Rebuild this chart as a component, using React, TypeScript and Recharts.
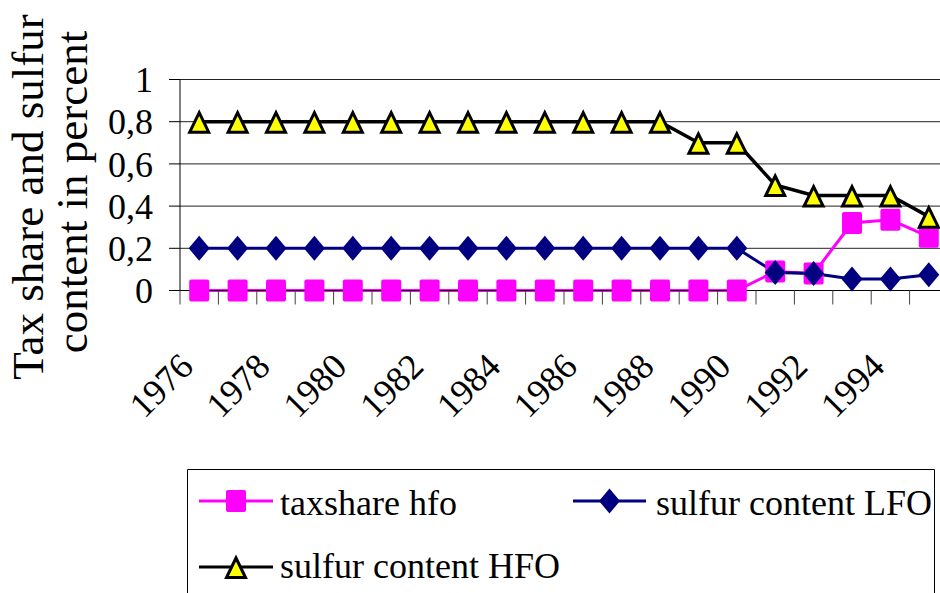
import React from 'react';
import { LineChart, Line, XAxis, YAxis, CartesianGrid, Legend, Customized } from 'recharts';

const years = ['1976', '1977', '1978', '1979', '1980', '1981', '1982', '1983', '1984', '1985', '1986', '1987', '1988', '1989', '1990', '1991', '1992', '1993', '1994', '1995'];
const taxshareHfo = [0, 0, 0, 0, 0, 0, 0, 0, 0, 0, 0, 0, 0, 0, 0, 0.09, 0.08, 0.32, 0.335, 0.255];
const sulfurLfo = [0.2, 0.2, 0.2, 0.2, 0.2, 0.2, 0.2, 0.2, 0.2, 0.2, 0.2, 0.2, 0.2, 0.2, 0.2, 0.085, 0.08, 0.055, 0.055, 0.075];
const sulfurHfo = [0.8, 0.8, 0.8, 0.8, 0.8, 0.8, 0.8, 0.8, 0.8, 0.8, 0.8, 0.8, 0.8, 0.7, 0.7, 0.5, 0.45, 0.45, 0.45, 0.35];
const yTicks = [0, 0.2, 0.4, 0.6, 0.8, 1];
const seriesNames = ['taxshare hfo', 'sulfur content LFO', 'sulfur content HFO'];
const yTitleLines = ['Tax share and sulfur', 'content in percent'];

const data = years.map((y, i) => ({ year: y, tax: taxshareHfo[i], lfo: sulfurLfo[i], hfo: sulfurHfo[i] }));

const FONT = '"Liberation Serif", "Times New Roman", serif';
const MAGENTA = '#FF00FF';
const NAVY = '#000080';

function SquareMark({ cx, cy }: any) {
  return <rect x={cx - 10} y={cy - 11} width={20} height={22} rx={2} fill={MAGENTA} />;
}
function DiamondMark({ cx, cy }: any) {
  return <polygon points={`${cx},${cy - 12.5} ${cx + 10.5},${cy} ${cx},${cy + 12.5} ${cx - 10.5},${cy}`} fill={NAVY} />;
}
function TriangleMark({ cx, cy }: any) {
  return (
    <polygon
      points={`${cx},${cy - 9} ${cx + 9.5},${cy + 10.5} ${cx - 9.5},${cy + 10.5}`}
      fill="#FFFF00"
      stroke="#000"
      strokeWidth={3}
      strokeLinejoin="miter"
    />
  );
}

function XTick(props: any) {
  const { x, y, payload } = props;
  const idx = years.indexOf(String(payload.value));
  const half = 19.2;
  const tx = x - 4;
  const ty = y + 78;
  return (
    <g>
      <line x1={x - half} y1={y} x2={x - half} y2={y + 14} stroke="#404040" strokeWidth={1} />
      {idx % 2 === 0 && (
        <text x={tx} y={ty} transform={`rotate(-45 ${tx} ${ty})`} textAnchor="end" fontSize={36} fontFamily={FONT} fill="#000">
          {payload.value}
        </text>
      )}
    </g>
  );
}

function YTitle() {
  return (
    <g>
      <text transform="translate(43,197) rotate(-90)" textAnchor="middle" fontSize={45} fontFamily={FONT} fill="#000">
        {yTitleLines[0]}
      </text>
      <text transform="translate(87,192) rotate(-90)" textAnchor="middle" fontSize={45} fontFamily={FONT} fill="#000">
        {yTitleLines[1]}
      </text>
    </g>
  );
}

function LegendIcon({ x1, x2, y, color, Mark }: any) {
  return (
    <g>
      <line x1={x1} y1={y} x2={x2} y2={y} stroke={color} strokeWidth={3} />
      <Mark cx={(x1 + x2) / 2} cy={y} />
    </g>
  );
}

function LegendBox() {
  return (
    <svg width={748} height={124} style={{ display: 'block' }}>
      <rect x={0} y={0} width={748} height={124} fill="#fff" />
      <path d="M0.5,124 V0.5 H747.5 V124" fill="none" stroke="#000" strokeWidth={1} />
      <LegendIcon x1={12} x2={86} y={32} color={MAGENTA} Mark={SquareMark} />
      <text x={93} y={46} fontSize={36} fontFamily={FONT} fill="#000">{seriesNames[0]}</text>
      <LegendIcon x1={386} x2={459} y={32} color={NAVY} Mark={DiamondMark} />
      <text x={469} y={46} fontSize={36} fontFamily={FONT} fill="#000">{seriesNames[1]}</text>
      <LegendIcon x1={12} x2={86} y={98} color="#000" Mark={TriangleMark} />
      <text x={93} y={109} fontSize={36} fontFamily={FONT} fill="#000">{seriesNames[2]}</text>
    </svg>
  );
}

export default function App() {
  return (
    <div style={{ position: 'fixed', left: 0, top: 0, width: 940, height: 593, overflow: 'hidden', background: '#fff' }}>
      <LineChart width={960} height={593} data={data} margin={{ top: 79.5, right: 12, left: 0, bottom: 202.5 }} style={{ fontFamily: FONT }}>
        <CartesianGrid vertical={false} stroke="#222" strokeWidth={1} />
        <XAxis
          dataKey="year"
          type="category"
          interval={0}
          padding={{ left: 19.2, right: 19.2 }}
          height={100}
          tickSize={0}
          tickMargin={0}
          tickLine={false}
          axisLine={{ stroke: '#000', strokeWidth: 1 }}
          tick={<XTick />}
        />
        <YAxis
          type="number"
          domain={[0, 1]}
          ticks={yTicks}
          interval={0}
          width={180}
          tickSize={11}
          tickMargin={16}
          tickLine={{ stroke: '#000' }}
          axisLine={{ stroke: '#000', strokeWidth: 1 }}
          tick={{ fontSize: 36, fontFamily: FONT, fill: '#000' }}
          tickFormatter={(v: number) => String(v).replace('.', ',')}
        />
        <Line type="linear" dataKey="tax" name={seriesNames[0]} stroke={MAGENTA} strokeWidth={3} isAnimationActive={false} activeDot={false}
          dot={(p: any) => <SquareMark key={`s${p.index}`} cx={p.cx} cy={p.cy} />} />
        <Line type="linear" dataKey="lfo" name={seriesNames[1]} stroke={NAVY} strokeWidth={3} isAnimationActive={false} activeDot={false}
          dot={(p: any) => <DiamondMark key={`d${p.index}`} cx={p.cx} cy={p.cy} />} />
        <Line type="linear" dataKey="hfo" name={seriesNames[2]} stroke="#000" strokeWidth={3.5} isAnimationActive={false} activeDot={false}
          dot={(p: any) => <TriangleMark key={`t${p.index}`} cx={p.cx} cy={p.cy} />} />
        <Legend
          layout="horizontal"
          verticalAlign="middle"
          align="center"
          wrapperStyle={{ position: 'absolute', left: 187, top: 469, width: 748, height: 124, margin: 0, padding: 0 }}
          content={() => <LegendBox />}
        />
        <Customized component={YTitle} />
      </LineChart>
    </div>
  );
}
